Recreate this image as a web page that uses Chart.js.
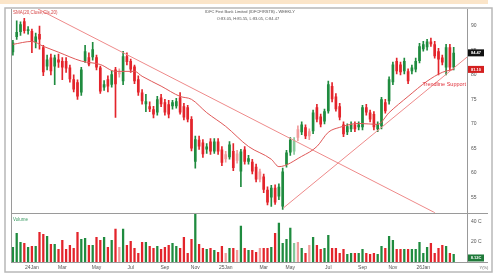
<!DOCTYPE html>
<html>
<head>
<meta charset="utf-8">
<script src="https://cdn.jsdelivr.net/npm/chart.js@4.4.0/dist/chart.umd.min.js"></script>
<style>
  html, body { margin: 0; padding: 0; background: #fff; }
  #wrap { position: relative; width: 500px; height: 280px; }
</style>
</head>
<body>
<div id="wrap"><canvas id="chart" width="500" height="280"></canvas></div>
<script>
// weekly candles, Dec 2023 -> Feb 2026 (3 empty weeks of room on the right)
const weeks = Array.from({ length: 120 }, (_, i) => 'W' + i);

const opens = [84.6,87.7,88.7,90.9,88.9,88.9,86.6,88.3,85.6,81.7,83.5,81.7,83.1,82.8,82.8,81.5,79.1,78.5,76.4,82.8,
  83.6,83.6,83.6,81.5,77.4,79.1,78.0,81.1,80.5,78.7,83.8,82.8,81.7,79.1,76.4,74.0,73.6,73.0,72.3,75.4,
  74.4,74.0,73.6,73.6,75.4,73.6,73.4,71.0,62.3,66.8,66.2,64.8,66.4,64.4,66.4,64.8,63.8,63.2,64.5,64.0,
  60.3,64.8,62.3,62.3,61.3,60.3,59.3,56.6,55.0,57.0,55.2,53.2,61.7,64.2,64.4,68.9,68.3,69.3,68.5,68.5,
  73.4,71.5,70.5,72.6,77.7,75.6,73.6,69.9,68.3,68.9,69.9,69.3,69.3,73.4,72.3,72.0,68.9,69.5,74.4,74.6,
  78.5,82.8,82.1,80.7,80.7,80.7,81.1,82.8,85.2,85.6,86.8,86.2,84.8,83.5,81.5,85.6,81.5];
const highs = [87.0,91.0,90.8,91.5,89.8,89.3,88.5,89.9,86.0,84.0,84.2,84.0,84.2,83.5,83.5,82.0,80.0,79.0,81.5,86.0,
  84.5,86.6,84.0,81.8,78.8,79.8,80.8,81.5,81.2,84.8,84.5,83.2,82.0,79.8,77.0,76.0,74.5,73.6,75.6,76.0,
  75.0,74.8,74.8,75.2,76.4,74.2,73.8,71.5,67.5,67.5,66.8,66.0,67.0,67.0,67.0,65.4,64.4,66.4,66.0,64.6,
  64.8,65.4,63.6,62.8,61.8,60.8,59.8,57.2,57.5,57.6,57.8,61.0,64.6,67.2,67.2,69.6,70.4,69.8,69.0,72.8,
  74.0,72.0,73.0,78.7,78.4,76.2,74.2,70.4,70.0,70.4,70.4,70.4,73.8,74.0,72.8,72.5,70.4,75.4,75.0,79.6,
  82.6,83.4,82.6,83.4,81.2,82.0,83.4,86.4,86.8,87.2,87.5,86.8,85.4,84.0,86.2,86.2,85.6];
const lows = [84.0,87.2,88.0,88.5,88.3,84.5,85.5,85.2,79.8,81.0,80.0,78.0,81.5,79.0,80.5,78.5,76.5,75.0,75.8,82.5,
  81.8,83.0,81.0,76.2,76.8,76.5,77.5,71.3,79.5,78.0,82.0,80.5,78.2,75.8,74.0,72.5,72.5,71.2,71.8,73.5,
  71.8,71.2,73.0,73.2,72.0,70.8,70.4,64.5,61.0,64.8,63.2,64.0,63.8,64.0,63.8,61.5,62.2,62.8,60.5,62.0,
  57.2,61.8,61.8,59.8,58.2,58.2,56.0,53.5,53.2,53.6,54.6,52.6,61.2,63.6,63.8,66.6,67.8,67.0,66.8,68.0,
  70.4,69.4,70.0,72.2,74.5,72.6,70.8,67.4,67.8,68.4,68.4,68.8,68.8,71.8,70.4,68.8,68.4,69.0,72.2,74.0,
  78.0,80.2,80.0,80.2,78.2,80.2,80.6,82.4,84.8,85.0,85.8,83.4,80.0,82.0,80.0,81.0,81.0];
const closes = [86.6,88.7,90.3,88.9,89.3,86.8,87.8,87.2,80.5,83.1,80.7,83.5,82.5,81.5,81.3,79.1,77.0,75.6,81.1,84.8,
  82.1,85.2,81.5,76.6,78.1,77.6,80.1,78.1,80.1,83.8,82.6,81.1,78.7,76.4,74.6,74.6,73.0,71.9,75.0,74.0,
  72.3,71.9,74.4,74.6,72.3,71.3,70.9,65.0,66.9,65.4,63.8,65.4,64.4,66.4,64.4,62.1,62.8,65.8,61.0,62.5,
  64.4,62.3,63.0,60.3,58.7,58.7,56.6,54.0,57.0,54.0,57.2,60.3,64.2,66.8,66.6,67.2,69.9,67.5,67.5,72.3,
  70.9,69.9,72.6,78.1,75.0,73.0,71.3,67.9,69.5,69.9,68.9,69.9,73.4,72.3,70.9,69.3,69.9,75.0,72.6,79.1,
  82.1,80.7,80.5,82.8,78.7,81.5,82.8,85.8,86.2,86.8,86.2,83.8,83.1,82.5,85.6,81.5,84.47];
// volume in crore shares
const volumes = [15,29,20,19,15,16,16,30,28,26,18,18,13,22,13,17,14,30,23,24,
  17,17,25,22,25,15,22,33,15,33,17,21,14,9,20,20,16,14,16,13,
  15,17,19,16,14,25,9,23,48,18,14,13,14,12,10,16,9,14,14,12,
  36,14,12,12,10,14,14,14,15,29,39,19,23,34,19,20,14,9,17,25,
  17,13,14,27,14,14,9,13,8,9,9,9,13,9,8,9,8,16,14,26,
  22,13,13,13,13,13,13,20,9,15,19,9,14,17,16,9,8];

// SMA(20) at these weeks
const smaWeeks  = [0,5,8,12,18,23,27,32,34,39,44,47,51,56,62,68,70,76,80,83,86,91,96,99,104,109,113,116];
const smaValues = [86.2,86.8,85.8,84.6,82.8,82.1,80.7,80.7,79.7,77.7,75.6,75.0,72.3,69.5,65.4,62.8,61.3,63.4,65.4,68.3,69.3,70.1,69.9,72.3,75.6,78.7,80.5,81.1];

// drawn trendlines (week, price)
const downWeeks = [6.6, 111.1];
const downPrices = [93.4, 51.9];
const upWeeks = [71.2, 119.5];
const upPrices = [52.9, 83.6];

const tickWeeks  = [5, 13, 22, 31, 40, 48, 56, 66, 73, 83, 92, 100, 108];
const tickLabels = ['24Jan','Mar','May','Jul','Sep','Nov','25Jan','Mar','May','Jul','Sep','Nov','26Jan'];
const priceTicks = [55, 60, 65, 70, 75, 80, 85, 90];
const volTicks = [20, 40];

const GREEN = '#1f8b3f', GREEN_L = '#86c99a', RED = '#e3242b', RED_L = '#f29c9c';
const colors = closes.map((c, i) => {
  const up = c >= opens[i];
  const prev = i > 0 ? closes[i - 1] : opens[i];
  const strong = up ? c >= prev : c < prev;
  return up ? (strong ? GREEN : GREEN_L) : (strong ? RED : RED_L);
});

const FONT = 'Liberation Sans, Arial, sans-serif';

const decor = {
  id: 'decor',
  beforeDraw(chart) {
    const c = chart.ctx;
    c.save();
    c.fillStyle = '#fff';
    c.fillRect(0, 0, 500, 280);
    c.fillStyle = '#fbe5c9';
    c.fillRect(0, 0, 488, 4);
    c.strokeStyle = '#b8b8b8';
    c.lineWidth = 1.5;
    c.strokeRect(5, 8, 487, 264);
    c.restore();
  },
  afterDraw(chart) {
    const c = chart.ctx;
    const a = chart.chartArea;
    const y = chart.scales.y, yv = chart.scales.yv, xl = chart.scales.xl;
    c.save();
    c.strokeStyle = '#9a9a9a';
    c.lineWidth = 1;
    c.beginPath();
    c.moveTo(a.left + 0.5, a.top); c.lineTo(a.left + 0.5, a.bottom);
    c.moveTo(a.left, Math.round(yv.top) + 0.5); c.lineTo(488, Math.round(yv.top) + 0.5);
    c.moveTo(a.left, Math.round(a.bottom) + 0.5); c.lineTo(488, Math.round(a.bottom) + 0.5);
    c.stroke();

    c.textBaseline = 'middle';
    c.fillStyle = '#555';
    c.textAlign = 'center';
    c.font = '4px ' + FONT;
    c.fillText('IDFC First Bank Limited (IDFCFIRSTB) - WEEKLY', 250, 12);
    c.fillText('O:83.05, H:85.55, L:83.05, C:84.47', 248, 19);

    c.textAlign = 'left';
    c.font = '4.5px ' + FONT;
    c.fillStyle = '#d64545';
    c.fillText('SMA(20,Close,Cls,20)', 13, 13);
    c.fillStyle = '#3a9a62';
    c.fillText('Volume', 13, 220);

    c.font = '5.5px ' + FONT;
    c.fillStyle = '#e0303a';
    c.textAlign = 'center';
    c.fillText('Trendline Support', xl.getPixelForValue(113.5), y.getPixelForValue(78.1));

    // value boxes on the right axis
    const box = (val, scale, bg, txt) => {
      const py = scale.getPixelForValue(val);
      c.fillStyle = bg;
      c.fillRect(468, py - 3.5, 16, 7);
      c.fillStyle = '#fff';
      c.font = 'bold 4px ' + FONT;
      c.textAlign = 'center';
      c.fillText(txt, 476, py);
    };
    box(closes[closes.length - 1], y, '#111', closes[closes.length - 1].toFixed(2));
    box(smaValues[smaValues.length - 1], y, '#d42020', smaValues[smaValues.length - 1].toFixed(2));
    box(volumes[volumes.length - 1] - 4, yv, '#1f7a3a', '8.12C');

    c.fillStyle = '#666';
    c.font = '4px ' + FONT;
    c.fillText('Y(%)', 484, 268);
    c.restore();
  }
};

new Chart(document.getElementById('chart').getContext('2d'), {
  type: 'bar',
  data: {
    labels: weeks,
    datasets: [
      {
        type: 'line', label: 'SMA', xAxisID: 'xl', yAxisID: 'y',
        data: smaWeeks.map((w, i) => ({ x: w, y: smaValues[i] })),
        borderColor: '#e05858', borderWidth: 1, pointRadius: 0,
        cubicInterpolationMode: 'monotone', order: -1
      },
      {
        type: 'line', label: 'down', xAxisID: 'xl', yAxisID: 'y',
        data: downWeeks.map((w, i) => ({ x: w, y: downPrices[i] })),
        borderColor: '#ee8a8a', borderWidth: 1, pointRadius: 0, order: -1
      },
      {
        type: 'line', label: 'up', xAxisID: 'xl', yAxisID: 'y',
        data: upWeeks.map((w, i) => ({ x: w, y: upPrices[i] })),
        borderColor: '#ee8a8a', borderWidth: 1, pointRadius: 0, order: -1
      },
      {
        label: 'wick', yAxisID: 'y',
        data: lows.map((l, i) => [l, highs[i]]),
        backgroundColor: colors, barThickness: 1, grouped: false, order: 2
      },
      {
        label: 'body', yAxisID: 'y',
        data: opens.map((o, i) => [o, closes[i]]),
        backgroundColor: colors, barPercentage: 0.7, categoryPercentage: 1,
        grouped: false, minBarLength: 1, order: 1
      },
      {
        label: 'volume', yAxisID: 'yv',
        data: volumes,
        backgroundColor: colors, barPercentage: 0.6, categoryPercentage: 1,
        grouped: false, order: 1
      }
    ]
  },
  options: {
    responsive: false,
    animation: false,
    events: [],
    layout: { padding: { left: 11, top: 9, right: 5, bottom: 0 } },
    plugins: { legend: { display: false }, tooltip: { enabled: false } },
    scales: {
      x: {
        type: 'category', offset: true,
        grid: { display: false, drawTicks: false },
        border: { display: false },
        ticks: {
          autoSkip: false, maxRotation: 0, minRotation: 0, padding: 3,
          font: { size: 5, family: FONT }, color: '#555',
          callback: (v) => tickLabels[tickWeeks.indexOf(v)] || ''
        },
        afterBuildTicks: (s) => { s.ticks = tickWeeks.map(v => ({ value: v })); },
        afterFit: (s) => { s.height = 18; }
      },
      xl: {
        type: 'linear', display: false, offset: false, bounds: 'data',
        grid: { offset: false }, min: -0.5, max: 119.5,
        afterDataLimits: (s) => { s.min = -0.5; s.max = 119.5; }
      },
      y: {
        type: 'linear', position: 'right', stack: 'main', stackWeight: 203,
        min: 51.9, max: 93.4, bounds: 'data',
        grid: { display: false, drawTicks: false },
        border: { display: true, color: '#999' },
        ticks: { padding: 4, font: { size: 5, family: FONT }, color: '#555' },
        afterBuildTicks: (s) => { s.ticks = priceTicks.map(v => ({ value: v })); },
        afterFit: (s) => { s.width = 28; }
      },
      yv: {
        type: 'linear', position: 'right', stack: 'main', stackWeight: 49,
        min: 0, max: 49, bounds: 'data',
        grid: { display: false, drawTicks: false },
        border: { display: true, color: '#999' },
        ticks: {
          padding: 4, font: { size: 5, family: FONT }, color: '#555',
          callback: (v) => v + ' C'
        },
        afterBuildTicks: (s) => { s.ticks = volTicks.map(v => ({ value: v })); },
        afterFit: (s) => { s.width = 28; }
      }
    }
  },
  plugins: [decor]
});
</script>
</body>
</html>
